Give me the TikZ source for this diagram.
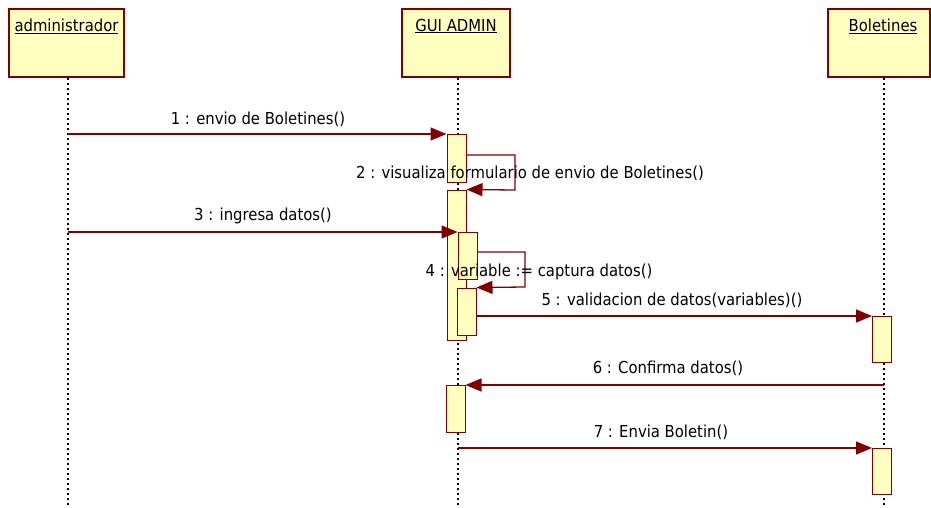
\documentclass[tikz,border=0pt]{standalone}
\usepackage{fontspec}
\setmainfont{DejaVu Sans Condensed}
\usepackage{xcolor}
\usetikzlibrary{arrows.meta, positioning}

\definecolor{umlred}{RGB}{128,0,0}
\definecolor{umlfill}{RGB}{255,255,192}

\begin{document}
\begin{tikzpicture}[x=1pt, y=-1pt, >={Triangle[length=16pt, width=13pt]}, font=\fontsize{16.5}{18}\selectfont]
		\tikzstyle{obj} = [draw=umlred, fill=umlfill, line width=1.2pt, minimum height=68pt, inner sep=0pt]
		\tikzstyle{act} = [draw=umlred, fill=umlfill, line width=1pt, minimum width=19pt, inner sep=0pt]
		\tikzstyle{life} = [draw=black, line width=1.2pt, dash pattern=on 2.5pt off 2.5pt]
		\tikzstyle{msg} = [color=umlred, line width=1.3pt]
		\tikzstyle{invis} = [draw=none, inner sep=0pt]
		
		\useasboundingbox (0,0) rectangle (931,507);
		
		% objects
		\node[obj, minimum width=115pt] 	at (66.5, 43) 	(admin) 	{};
		\node[obj, minimum width=108pt] 	at (456, 43) 	(gui) 	{};
		\node[obj, minimum width=102pt] 	at (879, 43) 	(bol) 	{};
		\node[invis]	at (66.5, 26)	(admint)	{\underline{administrador}};
		\node[invis]	at (456, 26)	(guit)	{\underline{GUI ADMIN}};
		\node[invis]	at (883, 26)	(bolt)	{\underline{Boletines}};
		
		% lifelines
		\coordinate (adminend) at (68, 507);
		\coordinate (guiend) at (458, 507);
		\coordinate (bolend) at (884, 507);
		\draw[life] (admin.south -| adminend) -- (adminend);
		\draw[life] (gui.south -| guiend) -- (guiend);
		\draw[life] (bol.south -| bolend) -- (bolend);
		
		% activations
		\node[act, minimum height=48pt] 	at (456.5, 158) 	(a1) 	{};
		\node[act, minimum height=150pt] 	at (456.5, 265) 	(a2) 	{};
		\node[act, minimum height=47pt] 	at (467.5, 255.5) 	(a3) 	{};
		\node[act, minimum height=47pt] 	at (466.5, 311.5) 	(a4) 	{};
		\node[act, minimum height=47pt] 	at (455.5, 408.5) 	(a5) 	{};
		\node[act, minimum height=46pt] 	at (882, 339) 	(b1) 	{};
		\node[act, minimum height=46pt] 	at (882, 471) 	(b2) 	{};
		
		% message ends
		\coordinate (m1) at (68, 134);
		\coordinate (m2a) at (515, 155);
		\coordinate (m2b) at (515, 190);
		\coordinate (m3) at (68, 232);
		\coordinate (m4a) at (525, 252);
		\coordinate (m4b) at (525, 287);
		\coordinate (m5) at (477, 316);
		\coordinate (m6) at (884, 385);
		\coordinate (m7) at (458, 448);
		
		\path[->]
		(m1)	edge[msg]	(m1 -| a1.west)
		(m3)	edge[msg]	(m3 -| a3.west)
		(m5)	edge[msg]	(m5 -| b1.west)
		(m6)	edge[msg]	(m6 -| a5.east)
		(m7)	edge[msg]	(m7 -| b2.west);
		\draw[msg, ->] (a1.east |- m2a) -- (m2a) -- (m2b) -- (a2.north east);
		\draw[msg, ->] (a3.east |- m4a) -- (m4a) -- (m4b) -- (a4.north east);
		
		% labels
		\node[invis]	at (258, 119)	(l1)	{1 : envio de Boletines()};
		\node[invis]	at (530, 173)	(l2)	{2 : visualiza formulario de envio de Boletines()};
		\node[invis]	at (263, 216)	(l3)	{3 : ingresa datos()};
		\node[invis]	at (539, 272)	(l4)	{4 : variable := captura datos()};
		\node[invis]	at (672, 300)	(l5)	{5 : validacion de datos(variables)()};
		\node[invis]	at (668, 368)	(l6)	{6 : Confirma datos()};
		\node[invis]	at (661, 432)	(l7)	{7 : Envia Boletin()};
\end{tikzpicture}
\end{document}
